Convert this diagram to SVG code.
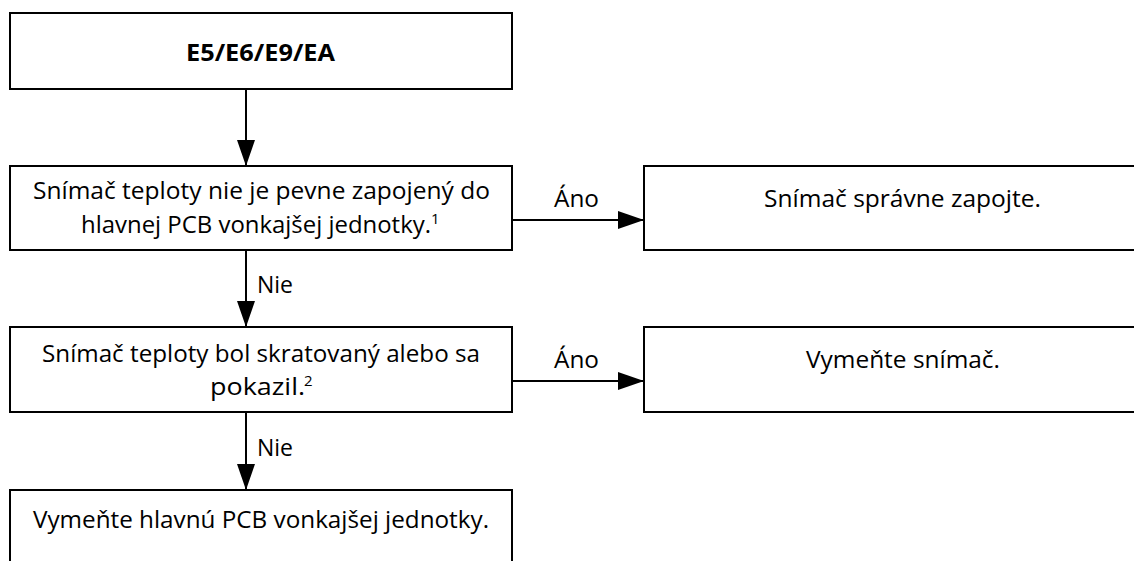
<svg xmlns="http://www.w3.org/2000/svg" width="1134" height="561" viewBox="0 0 1134 561">
<style>
.box{fill:#fff;stroke:#000;stroke-width:2}
.t{font-family:"Open Sans","Liberation Sans",sans-serif;font-size:23px;fill:#000;text-anchor:middle}
.s{text-anchor:start}
.b{font-weight:bold}
.sup{font-family:"Open Sans","Liberation Sans",sans-serif;font-size:15px;fill:#000}
.c{stroke:#000;stroke-width:2;fill:none}
</style>
<defs>
<marker id="ah" markerWidth="26" markerHeight="18" refX="26" refY="9" orient="auto" markerUnits="userSpaceOnUse">
<path d="M0,0 L26,9 L0,18 Z" fill="#000"/>
</marker>
</defs>
<rect width="1134" height="561" fill="#fff"/>
<g id="connectors">
<line class="c" x1="246" y1="89" x2="246" y2="166" marker-end="url(#ah)"/>
<line class="c" x1="246" y1="250" x2="246" y2="327" marker-end="url(#ah)"/>
<line class="c" x1="246" y1="412" x2="246" y2="490" marker-end="url(#ah)"/>
<line class="c" x1="512" y1="220" x2="644" y2="220" marker-end="url(#ah)"/>
<line class="c" x1="512" y1="381" x2="644" y2="381" marker-end="url(#ah)"/>
<text class="t s" x="257" y="293" textLength="36" lengthAdjust="spacingAndGlyphs">Nie</text>
<text class="t s" x="257" y="456" textLength="36" lengthAdjust="spacingAndGlyphs">Nie</text>
<text class="t s" x="554" y="207" textLength="45" lengthAdjust="spacingAndGlyphs">Áno</text>
<text class="t s" x="554" y="368" textLength="45" lengthAdjust="spacingAndGlyphs">Áno</text>
</g>
<g id="n1">
<rect class="box" x="10" y="13" width="502" height="76"/>
<text class="t b s" x="186" y="61" textLength="149" lengthAdjust="spacingAndGlyphs">E5/E6/E9/EA</text>
</g>
<g id="n2">
<rect class="box" x="10" y="166" width="502" height="84"/>
<text class="t s" x="33" y="199" textLength="457" lengthAdjust="spacingAndGlyphs">Snímač teploty nie je pevne zapojený do</text>
<text class="t s" x="81" y="233" textLength="350" lengthAdjust="spacingAndGlyphs">hlavnej PCB vonkajšej jednotky.</text>
<text class="sup" x="431" y="224">1</text>
</g>
<g id="n3">
<rect class="box" x="644" y="166" width="520" height="84"/>
<text class="t s" x="764" y="207" textLength="277" lengthAdjust="spacingAndGlyphs">Snímač správne zapojte.</text>
</g>
<g id="n4">
<rect class="box" x="10" y="327" width="502" height="85"/>
<text class="t s" x="42" y="362" textLength="438" lengthAdjust="spacingAndGlyphs">Snímač teploty bol skratovaný alebo sa</text>
<text class="t s" x="210" y="395" textLength="95" lengthAdjust="spacingAndGlyphs">pokazil.</text>
<text class="sup" x="304" y="386">2</text>
</g>
<g id="n5">
<rect class="box" x="644" y="327" width="520" height="85"/>
<text class="t s" x="806" y="368" textLength="194" lengthAdjust="spacingAndGlyphs">Vymeňte snímač.</text>
</g>
<g id="n6">
<rect class="box" x="10" y="490" width="502" height="90"/>
<text class="t s" x="33" y="528" textLength="456" lengthAdjust="spacingAndGlyphs">Vymeňte hlavnú PCB vonkajšej jednotky.</text>
</g>
</svg>
